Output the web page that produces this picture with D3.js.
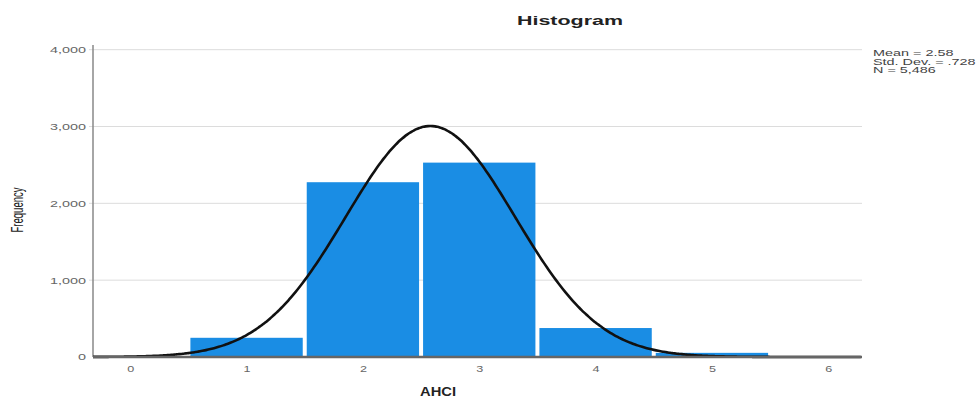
<!DOCTYPE html>
<html>
<head>
<meta charset="utf-8">
<script src="https://cdn.jsdelivr.net/npm/d3@7"></script>
<style>
  body { margin: 0; background: #fff; }
  text { font-family: "Liberation Sans", Arial, sans-serif; }
</style>
</head>
<body>
<script>
// histogram data (bins centred on integers)
var binCenters = [0, 1, 2, 3, 4, 5, 6];
var binCounts = [0, 250, 2275, 2530, 377, 54, 0];
var yTicks = [0, 1000, 2000, 3000, 4000];
var xTicks = [0, 1, 2, 3, 4, 5, 6];
var statsLines = ["Mean = 2.58", "Std. Dev. = .728", "N = 5,486"];
var mean = 2.58, sd = 0.728, n = 5486;

var width = 979, height = 398;
var plotLeft = 93, plotRight = 862, plotTop = 42, plotBottom = 357;

// the reference looks horizontally stretched, widen texts a bit
function stretch(sel, factor) {
  sel.each(function() {
    var w = this.getComputedTextLength();
    d3.select(this).attr('textLength', w * factor).attr('lengthAdjust', 'spacingAndGlyphs');
  });
}

var svg = d3.select('body').append('svg')
  .attr('width', width)
  .attr('height', height);

var x = d3.scaleLinear().domain([-0.32, 6.29]).range([plotLeft, plotRight]);
var y = d3.scaleLinear().domain([0, 4100]).range([plotBottom, plotTop]);

// gridlines
svg.append('g')
  .selectAll('line')
  .data(yTicks.slice(1))
  .enter().append('line')
  .attr('x1', plotLeft - 4).attr('x2', plotRight)
  .attr('y1', function(d) { return y(d); })
  .attr('y2', function(d) { return y(d); })
  .attr('stroke', '#dcdcdc')
  .attr('stroke-width', 1);

// bars
svg.append('g')
  .selectAll('rect')
  .data(binCenters)
  .enter().append('rect')
  .attr('x', function(d) { return x(d - 0.5) + 2; })
  .attr('width', function(d) { return x(d + 0.5) - x(d - 0.5) - 4; })
  .attr('y', function(d, i) { return y(binCounts[i]); })
  .attr('height', function(d, i) { return plotBottom - y(binCounts[i]); })
  .attr('fill', '#1a8de4');

// y axis
var yAxis = d3.axisLeft(y).tickValues(yTicks).tickSize(0).tickPadding(7)
  .tickFormat(d3.format(','));
var gy = svg.append('g').attr('transform', 'translate(' + plotLeft + ',0)').call(yAxis);
gy.select('.domain').remove();
gy.selectAll('text').attr('fill', '#666').style('font-size', '9px')
  .style('font-family', '"Liberation Sans", Arial, sans-serif')
  .call(stretch, 1.6);
svg.append('line')
  .attr('x1', plotLeft).attr('x2', plotLeft)
  .attr('y1', plotTop + 3).attr('y2', plotBottom)
  .attr('stroke', '#888').attr('stroke-width', 1.5);

// x axis
var xAxis = d3.axisBottom(x).tickValues(xTicks).tickSize(0).tickPadding(9)
  .tickFormat(d3.format('d'));
var gx = svg.append('g').attr('transform', 'translate(0,' + plotBottom + ')').call(xAxis);
gx.select('.domain').remove();
gx.selectAll('text').attr('fill', '#666').style('font-size', '9px')
  .style('font-family', '"Liberation Sans", Arial, sans-serif')
  .call(stretch, 1.4);

// normal curve
var pts = d3.range(x.domain()[0], x.domain()[1] + 0.001, 0.02);
var line = d3.line()
  .x(function(d) { return x(d); })
  .y(function(d) {
    var z = (d - mean) / sd;
    return y(n / (sd * Math.sqrt(2 * Math.PI)) * Math.exp(-0.5 * z * z));
  })
  .curve(d3.curveBasis);
svg.append('path')
  .datum(pts)
  .attr('d', line)
  .attr('fill', 'none')
  .attr('stroke', '#111')
  .attr('stroke-width', 2.6);

// baseline
svg.append('line')
  .attr('x1', plotLeft).attr('x2', plotRight)
  .attr('y1', plotBottom).attr('y2', plotBottom)
  .attr('stroke', '#666').attr('stroke-width', 2.5);

// title
svg.append('text')
  .attr('x', 570).attr('y', 25)
  .attr('text-anchor', 'middle')
  .style('font-size', '12px').style('font-weight', 'bold')
  .attr('fill', '#222')
  .text('Histogram')
  .attr('textLength', 106).attr('lengthAdjust', 'spacingAndGlyphs');

// axis titles
svg.append('text')
  .attr('transform', 'translate(23,210) rotate(-90)')
  .attr('text-anchor', 'middle')
  .style('font-size', '17px')
  .attr('fill', '#222')
  .text('Frequency')
  .attr('textLength', 45).attr('lengthAdjust', 'spacingAndGlyphs');

svg.append('text')
  .attr('x', 438).attr('y', 396)
  .attr('text-anchor', 'middle')
  .style('font-size', '13px').style('font-weight', 'bold')
  .attr('fill', '#222')
  .text('AHCI')
  .attr('textLength', 36).attr('lengthAdjust', 'spacingAndGlyphs');

// stats box
svg.append('g')
  .selectAll('text')
  .data(statsLines)
  .enter().append('text')
  .attr('x', 873)
  .attr('y', function(d, i) { return 56 + i * 8.5; })
  .style('font-size', '9px')
  .attr('fill', '#444')
  .text(function(d) { return d; })
  .call(stretch, 1.6);
</script>
</body>
</html>
